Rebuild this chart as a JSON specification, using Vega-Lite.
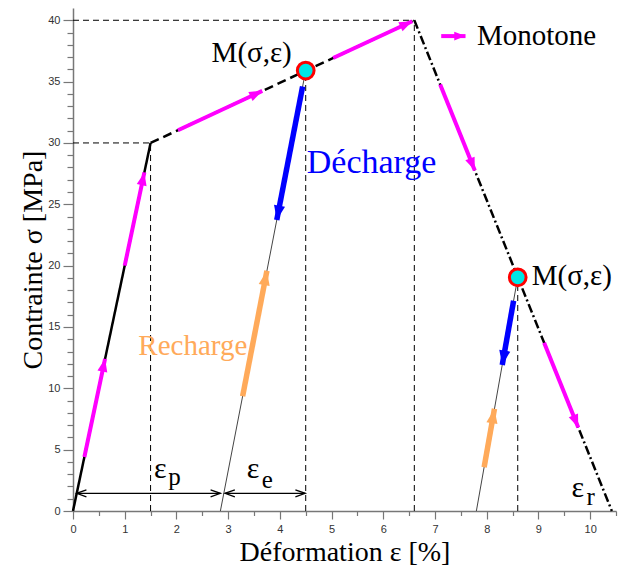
{
  "$schema": "https://vega.github.io/schema/vega-lite/v6.json",
  "width": 543,
  "height": 503,
  "autosize": "none",
  "padding": {"left": 73, "top": 8, "right": 9, "bottom": 58},
  "background": "white",
  "config": {"view": {"stroke": null}},
  "datasets": {
    "guides": [
      {"x": 0, "y": 30, "x2": 1.5, "y2": 30},
      {"x": 0, "y": 40, "x2": 6.6, "y2": 40},
      {"x": 1.5, "y": 0, "x2": 1.5, "y2": 30},
      {"x": 4.5, "y": 0, "x2": 4.5, "y2": 35.9},
      {"x": 6.6, "y": 0, "x2": 6.6, "y2": 40},
      {"x": 8.6, "y": 0, "x2": 8.6, "y2": 19.05}
    ],
    "elastic": [
      {"x": 2.85, "y": 0, "x2": 4.5, "y2": 35.9},
      {"x": 7.8, "y": 0, "x2": 8.6, "y2": 19.05}
    ],
    "envelope": [
      {"x": 0, "y": 0, "x2": 1.5, "y2": 30, "style": "solid"},
      {"x": 1.5, "y": 30, "x2": 6.6, "y2": 40, "style": "dashed"},
      {"x": 6.6, "y": 40, "x2": 10.42, "y2": 0, "style": "dashdot"}
    ],
    "arrows": [
      {"x": 0.22, "y": 4.4, "x2": 0.62, "y2": 12.4, "series": "Monotone", "dir": "A"},
      {"x": 1.0, "y": 20.0, "x2": 1.38, "y2": 27.6, "series": "Monotone", "dir": "A"},
      {"x": 2.03, "y": 31.04, "x2": 3.66, "y2": 34.24, "series": "Monotone", "dir": "B"},
      {"x": 5.03, "y": 36.92, "x2": 6.56, "y2": 39.92, "series": "Monotone", "dir": "B"},
      {"x": 7.1, "y": 34.76, "x2": 7.77, "y2": 27.75, "series": "Monotone", "dir": "C"},
      {"x": 9.11, "y": 13.72, "x2": 9.77, "y2": 6.81, "series": "Monotone", "dir": "C"},
      {"x": 7.12, "y": 38.71, "x2": 7.59, "y2": 38.71, "series": "Monotone", "dir": "L"},
      {"x": 4.44, "y": 34.6, "x2": 3.94, "y2": 23.72, "series": "Décharge", "dir": "D1"},
      {"x": 8.52, "y": 17.14, "x2": 8.3, "y2": 11.9, "series": "Décharge", "dir": "D2"},
      {"x": 3.28, "y": 9.36, "x2": 3.75, "y2": 19.58, "series": "Recharge", "dir": "R1"},
      {"x": 7.95, "y": 3.57, "x2": 8.15, "y2": 8.33, "series": "Recharge", "dir": "R2"}
    ],
    "dims": [
      {"x": 0.07, "y": 1.44, "x2": 2.85, "y2": 1.44},
      {"x": 2.94, "y": 1.44, "x2": 4.49, "y2": 1.44}
    ],
    "points": [
      {"x": 4.5, "y": 35.9},
      {"x": 8.6, "y": 19.05}
    ]
  },
  "encoding": {
    "x": {
      "field": "x", "type": "quantitative",
      "scale": {"domain": [0, 10.5], "nice": false, "zero": false},
      "axis": {
        "title": "Déformation ε [%]",
        "values": [0, 0.5, 1, 1.5, 2, 2.5, 3, 3.5, 4, 4.5, 5, 5.5, 6, 6.5, 7, 7.5, 8, 8.5, 9, 9.5, 10, 10.5],
        "labelExpr": "datum.value % 1 === 0 ? format(datum.value, 'd') : ''",
        "tickSize": {"condition": {"test": "datum.value % 1 === 0", "value": 8}, "value": 4.5},
        "labelOverlap": false, "labelFlush": false,
        "labelFont": "Liberation Sans", "labelFontSize": 11, "labelColor": "#333333", "labelPadding": 4,
        "domainColor": "#777777", "domainWidth": 1.5, "tickColor": "#777777", "tickWidth": 1.2,
        "titleFont": "Liberation Serif", "titleFontSize": 28, "titleFontWeight": "normal", "titleColor": "black", "titlePadding": 4,
        "grid": false
      }
    },
    "y": {
      "field": "y", "type": "quantitative",
      "scale": {"domain": [0, 41], "nice": false, "zero": false},
      "axis": {
        "title": "Contrainte σ [MPa]",
        "values": [0, 1, 2, 3, 4, 5, 6, 7, 8, 9, 10, 11, 12, 13, 14, 15, 16, 17, 18, 19, 20, 21, 22, 23, 24, 25, 26, 27, 28, 29, 30, 31, 32, 33, 34, 35, 36, 37, 38, 39, 40],
        "labelExpr": "datum.value % 5 === 0 ? format(datum.value, 'd') : ''",
        "tickSize": {"condition": {"test": "datum.value % 5 === 0", "value": 10}, "value": 6},
        "labelOverlap": false, "labelFlush": false,
        "labelFont": "Liberation Sans", "labelFontSize": 11, "labelColor": "#333333", "labelPadding": 3,
        "domainColor": "#777777", "domainWidth": 1.5, "tickColor": "#777777", "tickWidth": 1.2,
        "titleFont": "Liberation Serif", "titleFontSize": 28, "titleFontWeight": "normal", "titleColor": "black", "titlePadding": 0,
        "grid": false
      }
    }
  },
  "layer": [
    {
      "data": {"name": "guides"},
      "mark": {"type": "rule", "color": "black", "strokeWidth": 1, "strokeDash": [6, 4]},
      "encoding": {"x2": {"field": "x2"}, "y2": {"field": "y2"}}
    },
    {
      "data": {"name": "elastic"},
      "mark": {"type": "rule", "color": "#444444", "strokeWidth": 1},
      "encoding": {"x2": {"field": "x2"}, "y2": {"field": "y2"}}
    },
    {
      "data": {"name": "envelope"},
      "mark": {"type": "rule", "color": "black", "strokeWidth": 2.5},
      "encoding": {
        "x2": {"field": "x2"}, "y2": {"field": "y2"},
        "strokeDash": {"field": "style", "type": "nominal", "scale": {"domain": ["solid", "dashed", "dashdot"], "range": [[1, 0], [9, 5], [9, 3, 2, 3]]}, "legend": null}
      }
    },
    {
      "data": {"name": "arrows"},
      "transform": [{"filter": {"field": "series", "equal": "Monotone"}}],
      "mark": {"type": "rule", "color": "#FF00FF", "strokeWidth": 4},
      "encoding": {"x2": {"field": "x2"}, "y2": {"field": "y2"}}
    },
    {
      "data": {"name": "arrows"},
      "transform": [{"filter": {"field": "series", "equal": "Décharge"}}],
      "mark": {"type": "rule", "color": "#0000FF", "strokeWidth": 5.5},
      "encoding": {"x2": {"field": "x2"}, "y2": {"field": "y2"}}
    },
    {
      "data": {"name": "arrows"},
      "transform": [{"filter": {"field": "series", "equal": "Recharge"}}],
      "mark": {"type": "rule", "color": "#FFAA5A", "strokeWidth": 5.5},
      "encoding": {"x2": {"field": "x2"}, "y2": {"field": "y2"}}
    },
    {
      "data": {"name": "arrows"},
      "transform": [{"filter": {"field": "dir", "equal": "A"}}],
      "mark": {"type": "point", "shape": "M0,0L0.5,1.3L-0.5,1.3Z", "filled": true, "opacity": 1, "size": 400, "angle": 11.9, "color": "#FF00FF"},
      "encoding": {"x": {"field": "x2", "type": "quantitative", "title": "Déformation ε [%]"}, "y": {"field": "y2", "type": "quantitative", "title": "Contrainte σ [MPa]"}}
    },
    {
      "data": {"name": "arrows"},
      "transform": [{"filter": {"field": "dir", "equal": "B"}}],
      "mark": {"type": "point", "shape": "M0,0L0.5,1.3L-0.5,1.3Z", "filled": true, "opacity": 1, "size": 400, "angle": 65.05, "color": "#FF00FF"},
      "encoding": {"x": {"field": "x2", "type": "quantitative", "title": "Déformation ε [%]"}, "y": {"field": "y2", "type": "quantitative", "title": "Contrainte σ [MPa]"}}
    },
    {
      "data": {"name": "arrows"},
      "transform": [{"filter": {"field": "dir", "equal": "C"}}],
      "mark": {"type": "point", "shape": "M0,0L0.5,1.3L-0.5,1.3Z", "filled": true, "opacity": 1, "size": 400, "angle": 158.07, "color": "#FF00FF"},
      "encoding": {"x": {"field": "x2", "type": "quantitative", "title": "Déformation ε [%]"}, "y": {"field": "y2", "type": "quantitative", "title": "Contrainte σ [MPa]"}}
    },
    {
      "data": {"name": "arrows"},
      "transform": [{"filter": {"field": "dir", "equal": "L"}}],
      "mark": {"type": "point", "shape": "M0,0L0.5,1.3L-0.5,1.3Z", "filled": true, "opacity": 1, "size": 300, "angle": 90, "color": "#FF00FF"},
      "encoding": {"x": {"field": "x2", "type": "quantitative", "title": "Déformation ε [%]"}, "y": {"field": "y2", "type": "quantitative", "title": "Contrainte σ [MPa]"}}
    },
    {
      "data": {"name": "arrows"},
      "transform": [{"filter": {"field": "dir", "equal": "D1"}}],
      "mark": {"type": "point", "shape": "M0,0L0.5,1.3L-0.5,1.3Z", "filled": true, "opacity": 1, "size": 500, "angle": 190.96, "color": "#0000FF"},
      "encoding": {"x": {"field": "x2", "type": "quantitative", "title": "Déformation ε [%]"}, "y": {"field": "y2", "type": "quantitative", "title": "Contrainte σ [MPa]"}}
    },
    {
      "data": {"name": "arrows"},
      "transform": [{"filter": {"field": "dir", "equal": "D2"}}],
      "mark": {"type": "point", "shape": "M0,0L0.5,1.3L-0.5,1.3Z", "filled": true, "opacity": 1, "size": 500, "angle": 190.04, "color": "#0000FF"},
      "encoding": {"x": {"field": "x2", "type": "quantitative", "title": "Déformation ε [%]"}, "y": {"field": "y2", "type": "quantitative", "title": "Contrainte σ [MPa]"}}
    },
    {
      "data": {"name": "arrows"},
      "transform": [{"filter": {"field": "dir", "equal": "R1"}}],
      "mark": {"type": "point", "shape": "M0,0L0.5,1.3L-0.5,1.3Z", "filled": true, "opacity": 1, "size": 500, "angle": 10.96, "color": "#FFAA5A"},
      "encoding": {"x": {"field": "x2", "type": "quantitative", "title": "Déformation ε [%]"}, "y": {"field": "y2", "type": "quantitative", "title": "Contrainte σ [MPa]"}}
    },
    {
      "data": {"name": "arrows"},
      "transform": [{"filter": {"field": "dir", "equal": "R2"}}],
      "mark": {"type": "point", "shape": "M0,0L0.5,1.3L-0.5,1.3Z", "filled": true, "opacity": 1, "size": 500, "angle": 10.04, "color": "#FFAA5A"},
      "encoding": {"x": {"field": "x2", "type": "quantitative", "title": "Déformation ε [%]"}, "y": {"field": "y2", "type": "quantitative", "title": "Contrainte σ [MPa]"}}
    },
    {
      "data": {"name": "dims"},
      "mark": {"type": "rule", "color": "black", "strokeWidth": 1.2},
      "encoding": {"x2": {"field": "x2"}, "y2": {"field": "y2"}}
    },
    {
      "data": {"name": "dims"},
      "mark": {"type": "point", "shape": "M-0.5,1.4L0,0L0.5,1.4", "filled": false, "opacity": 1, "size": 196, "angle": 270, "color": "black", "strokeWidth": 1.3},
      "encoding": {}
    },
    {
      "data": {"name": "dims"},
      "mark": {"type": "point", "shape": "M-0.5,1.4L0,0L0.5,1.4", "filled": false, "opacity": 1, "size": 196, "angle": 90, "color": "black", "strokeWidth": 1.3},
      "encoding": {"x": {"field": "x2", "type": "quantitative", "title": "Déformation ε [%]"}, "y": {"field": "y2", "type": "quantitative", "title": "Contrainte σ [MPa]"}}
    },
    {
      "data": {"name": "points"},
      "mark": {"type": "point", "shape": "circle", "filled": true, "opacity": 1, "size": 280, "fill": "#00E5E5", "stroke": "#FF0000", "strokeWidth": 3}
    },
    {
      "data": {"values": [
        {"x": 2.68, "y": 36.62, "t": "M(σ,ε)"},
        {"x": 8.87, "y": 18.42, "t": "M(σ,ε)"},
        {"x": 7.81, "y": 37.99, "t": "Monotone"}
      ]},
      "mark": {"type": "text", "align": "left", "baseline": "alphabetic", "font": "Liberation Serif", "fontSize": 29, "color": "black"},
      "encoding": {"text": {"field": "t"}}
    },
    {
      "data": {"values": [{"x": 4.52, "y": 27.53, "t": "Décharge"}]},
      "mark": {"type": "text", "align": "left", "baseline": "alphabetic", "font": "Liberation Serif", "fontSize": 34, "color": "#0000FF"},
      "encoding": {"text": {"field": "t"}}
    },
    {
      "data": {"values": [{"x": 1.263, "y": 12.72, "t": "Recharge"}]},
      "mark": {"type": "text", "align": "left", "baseline": "alphabetic", "font": "Liberation Serif", "fontSize": 29, "color": "#FFAA5A"},
      "encoding": {"text": {"field": "t"}}
    },
    {
      "data": {"values": [
        {"x": 1.566, "y": 2.67, "t": "ε"},
        {"x": 3.36, "y": 2.69, "t": "ε"},
        {"x": 9.64, "y": 1.17, "t": "ε"}
      ]},
      "mark": {"type": "text", "align": "left", "baseline": "alphabetic", "font": "Liberation Serif", "fontSize": 30, "color": "black"},
      "encoding": {"text": {"field": "t"}}
    },
    {
      "data": {"values": [
        {"x": 1.843, "y": 2.12, "t": "p"},
        {"x": 3.65, "y": 1.85, "t": "e"},
        {"x": 9.93, "y": 0.49, "t": "r"}
      ]},
      "mark": {"type": "text", "align": "left", "baseline": "alphabetic", "font": "Liberation Serif", "fontSize": 25, "color": "black"},
      "encoding": {"text": {"field": "t"}}
    }
  ]
}
